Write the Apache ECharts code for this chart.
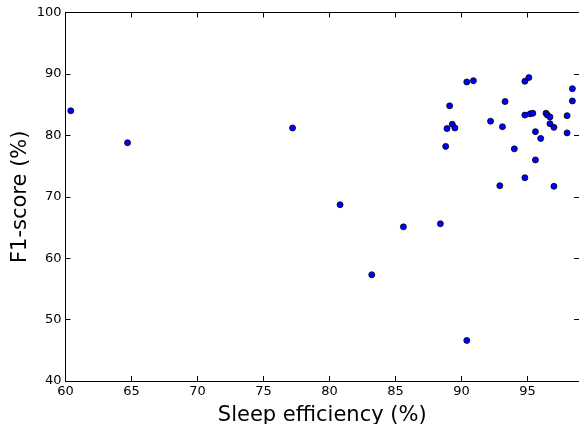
<!DOCTYPE html>
<html>
<head>
<meta charset="utf-8">
<script src="https://cdn.jsdelivr.net/npm/echarts@6/dist/echarts.min.js"></script>
<style>
  html, body { margin: 0; padding: 0; background: #fff; }
  #chart { width: 579px; height: 424px; }
</style>
</head>
<body>
<div id="chart"></div>
<script>
// Sleep efficiency (%) vs F1-score (%)
const sleepEfficiency = [
  60.4, 64.7, 77.2, 80.8, 83.2, 85.6, 88.4, 90.4,
  90.4, 90.9, 94.8, 95.1, 98.4, 89.1, 93.3, 98.4,
  94.8, 95.2, 95.4, 96.4, 96.5, 96.7, 98.0, 92.2,
  89.3, 88.9, 89.5, 93.1, 96.7, 97.0, 95.6, 98.0,
  96.0, 88.8, 94.0, 95.6, 94.8, 92.9, 97.0
];
const f1Score = [
  84.0, 78.8, 81.2, 68.7, 57.3, 65.1, 65.6, 46.6,
  88.7, 88.9, 88.8, 89.4, 87.6, 84.8, 85.5, 85.6,
  83.3, 83.5, 83.6, 83.6, 83.3, 83.0, 83.2, 82.3,
  81.8, 81.1, 81.2, 81.4, 81.9, 81.3, 80.6, 80.4,
  79.5, 78.2, 77.8, 76.0, 73.1, 71.8, 71.7
];
const xTicks = { min: 60, max: 98.9, interval: 5 };
const yTicks = { min: 40, max: 100, interval: 10 };

const points = sleepEfficiency.map((x, i) => [x, f1Score[i]]);

const chart = echarts.init(document.getElementById('chart'));
const font = 'DejaVu Sans';
const tickStyle = { show: true, inside: true, length: 5, lineStyle: { color: '#000', width: 1 } };

chart.setOption({
  backgroundColor: '#fff',
  animation: false,
  grid: { left: 65.5, top: 12.5, right: 0, bottom: 43, containLabel: false, outerBoundsMode: 'none' },
  xAxis: [
    {
      type: 'value',
      min: xTicks.min, max: xTicks.max, interval: xTicks.interval,
      name: 'Sleep efficiency (%)',
      nameLocation: 'middle', nameGap: 24, nameMoveOverlap: false,
      nameTextStyle: { fontFamily: font, fontSize: 21, color: '#000' },
      axisLine: { show: true, lineStyle: { color: '#000', width: 1 } },
      axisTick: tickStyle,
      splitLine: { show: false },
      axisLabel: {
        fontFamily: font, fontSize: 13, color: '#000', margin: 4,
        showMaxLabel: false,
        formatter: (v) => (v % 5 === 0 ? String(v) : '')
      }
    },
    {
      type: 'value', position: 'top',
      min: xTicks.min, max: xTicks.max, interval: xTicks.interval,
      axisLine: { show: true, lineStyle: { color: '#000', width: 1 } },
      axisTick: tickStyle,
      axisLabel: { show: false },
      splitLine: { show: false }
    }
  ],
  yAxis: [
    {
      type: 'value',
      min: yTicks.min, max: yTicks.max, interval: yTicks.interval,
      name: 'F1-score (%)',
      nameLocation: 'middle', nameGap: 34, nameRotate: 90, nameMoveOverlap: false,
      nameTextStyle: { fontFamily: font, fontSize: 21, color: '#000' },
      axisLine: { show: true, lineStyle: { color: '#000', width: 1 } },
      axisTick: tickStyle,
      splitLine: { show: false },
      axisLabel: { fontFamily: font, fontSize: 13, color: '#000', margin: 4 }
    },
    {
      type: 'value', position: 'right',
      min: yTicks.min, max: yTicks.max, interval: yTicks.interval,
      axisLine: { show: true, lineStyle: { color: '#000', width: 1 } },
      axisTick: tickStyle,
      axisLabel: { show: false },
      splitLine: { show: false }
    }
  ],
  series: [
    {
      type: 'scatter',
      data: points,
      symbol: 'circle',
      symbolSize: 6,
      itemStyle: { color: '#0000ff', borderColor: '#000', borderWidth: 0.8, opacity: 1 }
    }
  ]
});
</script>
</body>
</html>
